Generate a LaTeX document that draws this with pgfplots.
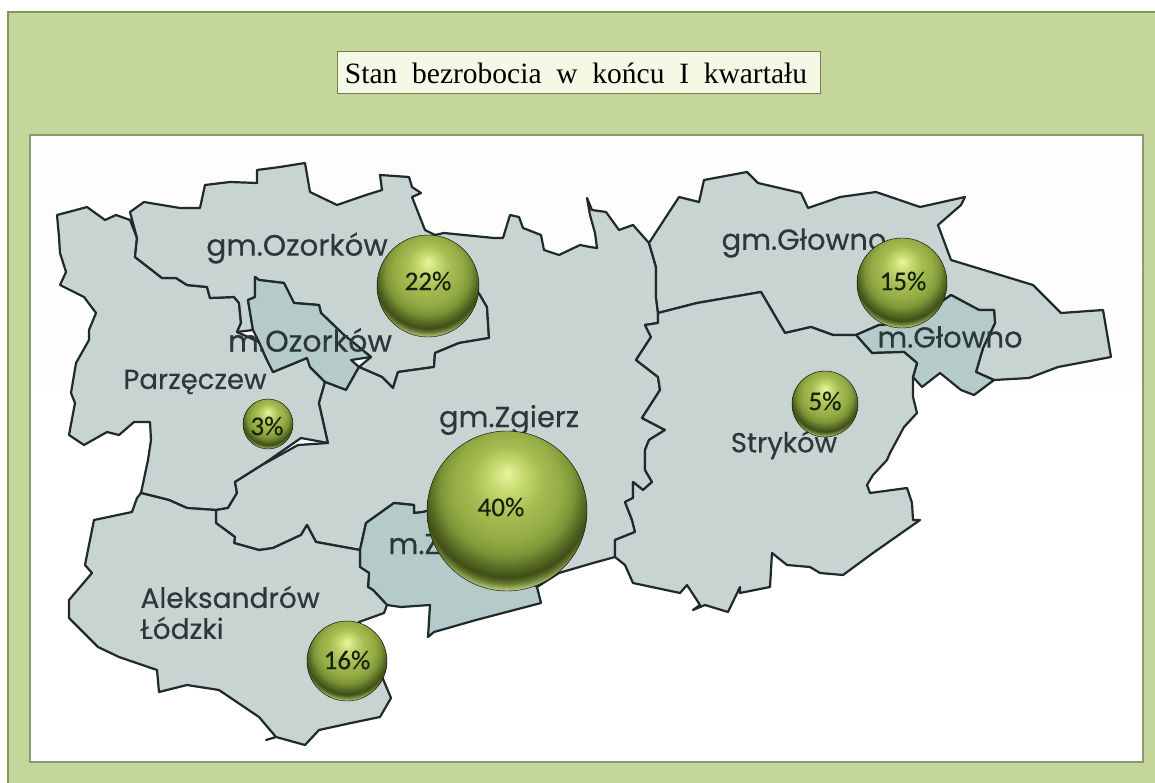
\documentclass[border=0pt]{standalone}
\usepackage{fontspec}
\setmainfont{Liberation Serif}
\newfontfamily\mapfont[FakeBold=0.4]{Poppins}
\newfontfamily\ballfont[FakeBold=0.3]{Carlito}
\usepackage{pgfplots}
\pgfplotsset{compat=1.18}
\definecolor{outerbg}{HTML}{C4D699}
\definecolor{outerline}{HTML}{7E9858}
\definecolor{panelline}{HTML}{8A9A70}
\definecolor{titlefill}{HTML}{F4F8E4}
\definecolor{titleline}{HTML}{6F8050}
\definecolor{gmina}{HTML}{C8D4D1}
\definecolor{miasto}{HTML}{B5CBC9}
\definecolor{edge}{HTML}{20292B}
\definecolor{mapink}{HTML}{2C3838}
\definecolor{ballink}{HTML}{14240C}
% sphere look: the shading centre sits high, so the far rim goes light again
\pgfdeclareradialshading{ball}{\pgfpoint{0bp}{12bp}}{%
  color(0bp)=(rgb,255:red,234;green,245;blue,160);
  color(5bp)=(rgb,255:red,198;green,218;blue,112);
  color(11bp)=(rgb,255:red,166;green,188;blue,82);
  color(17bp)=(rgb,255:red,148;green,172;blue,68);
  color(21bp)=(rgb,255:red,124;green,148;blue,54);
  color(24bp)=(rgb,255:red,88;green,108;blue,36);
  color(26.5bp)=(rgb,255:red,62;green,78;blue,24);
  color(28bp)=(rgb,255:red,106;green,126;blue,50);
  color(29.8bp)=(rgb,255:red,192;green,208;blue,136);
  color(50bp)=(rgb,255:red,192;green,208;blue,136)}
\pgfdeclareplotmark{sphere}{%
  \shade[shading=ball] (0,0) circle (\pgfplotmarksize);}
\begin{document}
\begin{tikzpicture}
\begin{axis}[
  scale only axis, width=1155pt, height=783pt,
  xmin=0, xmax=1155, ymin=0, ymax=783, y dir=reverse,
  axis lines=none, clip=true,
  after end axis/.code={
    % bubble labels, over the marks
    \node[font=\ballfont\fontsize{27}{27}\selectfont, text=ballink] at (axis cs:428,281) {22\%};
    \node[font=\ballfont\fontsize{27}{27}\selectfont, text=ballink] at (axis cs:267,426) {3\%};
    \node[font=\ballfont\fontsize{27}{27}\selectfont, text=ballink] at (axis cs:501,507) {40\%};
    \node[font=\ballfont\fontsize{27}{27}\selectfont, text=ballink] at (axis cs:347,660) {16\%};
    \node[font=\ballfont\fontsize{27}{27}\selectfont, text=ballink] at (axis cs:903,281) {15\%};
    \node[font=\ballfont\fontsize{27}{27}\selectfont, text=ballink] at (axis cs:825,401) {5\%};
  },
]
% page, background and panel
\addplot[draw=none, fill=white] coordinates {(0,0) (1155,0) (1155,783) (0,783)} --cycle;
\addplot[draw=none, fill=outerbg] coordinates {(8,12) (1155,12) (1155,783) (8,783)} --cycle;
\addplot[draw=outerline, line width=2pt] coordinates {(8,783) (8,12) (1155,12)};
\addplot[draw=panelline, line width=1.8pt, top color=black!1, bottom color=white, middle color=white] coordinates {(30,135) (1143,135) (1143,762) (30,762)} --cycle;
% title box
\addplot[draw=titleline, line width=1pt, fill=titlefill] coordinates {(337,52) (820,52) (820,94) (337,94)} --cycle;
% map regions
\addplot[draw=edge, line width=2.2pt, fill=gmina, line join=round] coordinates {
(57,215) (76,210) (87,207) (105,220) (116,215) (130,220) (137,238) (135,257) (162,278) (176,278) (187,285) (207,287) (210,298) (234,297) (239,303) (241,323) (237,332) (259,342) (266,358) (273,372) (307,358) (310,367) (325,382) (319,403) (328,443) (301,438) (262,465) (235,482) (237,493) (228,508) (216,510) (187,508) (169,500) (141,493) (148,460) (151,440) (150,422) (134,422) (119,435) (107,432) (84,445) (69,435) (75,403) (71,393) (76,363) (89,340) (89,330) (96,313) (84,297) (60,285) (66,272) (60,253) (59,237)} --cycle;
\addplot[draw=edge, line width=2.2pt, fill=gmina, line join=round] coordinates {
(130,212) (144,202) (180,208) (200,208) (205,185) (230,182) (257,183) (257,170) (280,167) (305,163) (310,192) (337,205) (366,195) (382,190) (380,175) (409,177) (412,187) (421,193) (412,197) (425,230) (435,235) (480,295) (487,307) (489,338) (459,343) (435,353) (434,367) (398,372) (393,388) (382,377) (359,367) (371,357) (344,335) (321,313) (319,305) (294,303) (284,283) (259,280) (255,277) (255,297) (248,300) (253,330) (237,332) (241,323) (239,303) (234,297) (210,298) (207,287) (187,285) (176,278) (162,278) (135,257) (137,238)} --cycle;
\addplot[draw=edge, line width=2.2pt, fill=miasto, line join=round] coordinates {
(255,277) (259,280) (284,283) (294,303) (319,305) (321,313) (344,335) (371,357) (351,360) (359,367) (346,390) (325,382) (310,367) (307,358) (273,372) (266,358) (259,342) (253,330) (248,300) (255,297)} --cycle;
\addplot[draw=edge, line width=2.2pt, fill=gmina, line join=round] coordinates {
(435,235) (444,233) (494,238) (503,238) (510,215) (519,217) (523,228) (541,235) (544,250) (559,255) (580,245) (590,247) (597,248) (595,233) (590,215) (587,198) (592,210) (606,212) (619,230) (633,225) (649,243) (656,267) (656,297) (658,313) (658,323) (645,325) (651,337) (636,360) (658,377) (660,390) (642,418) (665,430) (649,440) (645,450) (645,470) (652,482) (643,490) (633,482) (633,498) (625,502) (632,520) (635,532) (615,540) (615,557) (593,563) (559,573) (537,587) (450,505) (423,512) (414,513) (414,505) (394,503) (366,523) (360,550) (316,542) (307,525) (301,535) (273,548) (259,550) (234,543) (235,537) (216,523) (216,510) (228,508) (237,493) (235,482) (262,465) (298,445) (328,443) (319,403) (325,382) (346,390) (359,367) (382,377) (393,388) (398,372) (434,367) (435,353) (459,343) (489,338) (487,307) (480,295)} --cycle;
\addplot[draw=edge, line width=2.2pt, fill=miasto, line join=round] coordinates {
(360,550) (366,523) (394,503) (414,505) (414,513) (423,512) (450,505) (537,587) (541,603) (476,620) (434,632) (428,637) (430,605) (401,607) (387,605) (373,590) (368,587) (369,573) (360,567)} --cycle;
\addplot[draw=edge, line width=2.2pt, fill=gmina, line join=round] coordinates {
(141,493) (169,500) (187,508) (216,510) (216,523) (235,537) (234,543) (259,550) (273,548) (301,535) (307,525) (316,542) (360,550) (360,567) (369,573) (368,587) (373,590) (387,605) (384,613) (359,622) (391,698) (380,717) (351,723) (319,730) (305,745) (276,737) (266,740) (276,737) (259,717) (219,690) (187,685) (159,692) (157,670) (119,657) (98,647) (69,618) (69,600) (92,573) (85,565) (94,520) (132,512) (137,498)} --cycle;
\addplot[draw=edge, line width=2.2pt, fill=gmina, line join=round] coordinates {
(649,243) (679,197) (699,202) (704,180) (747,172) (758,183) (801,193) (808,208) (840,197) (876,192) (920,207) (965,197) (961,205) (938,225) (951,260) (1033,285) (1061,313) (1103,310) (1111,357) (1058,367) (1029,378) (994,380) (976,372) (983,348) (995,323) (994,310) (979,310) (951,295) (911,323) (879,325) (856,335) (833,335) (811,327) (785,333) (761,292) (697,303) (658,313) (656,297) (656,267)} --cycle;
\addplot[draw=edge, line width=2.2pt, fill=miasto, line join=round] coordinates {
(856,335) (879,325) (911,323) (951,295) (979,310) (994,310) (995,323) (983,348) (976,372) (994,380) (974,395) (961,390) (940,373) (922,387) (913,377) (917,363) (904,352) (872,353)} --cycle;
\addplot[draw=edge, line width=2.2pt, fill=gmina, line join=round] coordinates {
(658,313) (697,303) (761,292) (785,333) (811,327) (833,335) (856,335) (872,353) (904,352) (917,363) (913,377) (913,397) (917,413) (904,427) (890,453) (887,460) (873,475) (867,485) (870,493) (907,488) (912,503) (913,520) (920,520) (873,553) (843,575) (820,573) (810,567) (787,565) (772,553) (770,587) (740,593) (740,587) (728,612) (705,605) (693,610) (700,605) (687,585) (680,593) (633,583) (625,565) (615,557) (615,540) (635,532) (632,520) (625,502) (633,498) (633,482) (643,490) (652,482) (645,470) (645,450) (649,440) (665,430) (642,418) (660,390) (658,377) (636,360) (651,337) (645,325) (658,323)} --cycle;
% place names
\node[font=\mapfont\fontsize{29.5}{30}\selectfont, text=mapink] at (axis cs:297,248) {gm.Ozorków};
\node[font=\mapfont\fontsize{30}{30}\selectfont, text=mapink] at (axis cs:310,340) {m.Ozorków};
\node[font=\mapfont\fontsize{27.5}{28}\selectfont, text=mapink] at (axis cs:195,382) {Parzęczew};
\node[font=\mapfont\fontsize{29}{29}\selectfont, text=mapink] at (axis cs:509,420) {gm.Zgierz};
\node[font=\mapfont\fontsize{29}{29}\selectfont, text=mapink, anchor=west] at (axis cs:385,547) {m.Zgierz};
\node[font=\mapfont\fontsize{28}{28}\selectfont, text=mapink, anchor=west] at (axis cs:137,597) {Aleksandrów};
\node[font=\mapfont\fontsize{28}{28}\selectfont, text=mapink, anchor=west] at (axis cs:137,628) {Łódzki};
\node[font=\mapfont\fontsize{29}{29}\selectfont, text=mapink] at (axis cs:804,243) {gm.Głowno};
\node[font=\mapfont\fontsize{29}{29}\selectfont, text=mapink] at (axis cs:950,337) {m.Głowno};
\node[font=\mapfont\fontsize{27.5}{28}\selectfont, text=mapink] at (axis cs:784,445) {Stryków};
% title
\node[font=\fontsize{29.5}{30}\selectfont] at (axis cs:576,73) {Stan\ \ bezrobocia\ \ w\ \ końcu\ \ I\ \ kwartału};
% bubbles, size
\addplot[only marks, mark=sphere, mark size=51pt] coordinates {(428,286)};
\addplot[only marks, mark=sphere, mark size=25pt] coordinates {(268,424)};
\addplot[only marks, mark=sphere, mark size=80pt] coordinates {(507,511)};
\addplot[only marks, mark=sphere, mark size=40pt] coordinates {(347,661)};
\addplot[only marks, mark=sphere, mark size=45pt] coordinates {(902,283)};
\addplot[only marks, mark=sphere, mark size=33pt] coordinates {(825,404)};
\end{axis}
\end{tikzpicture}
\end{document}
